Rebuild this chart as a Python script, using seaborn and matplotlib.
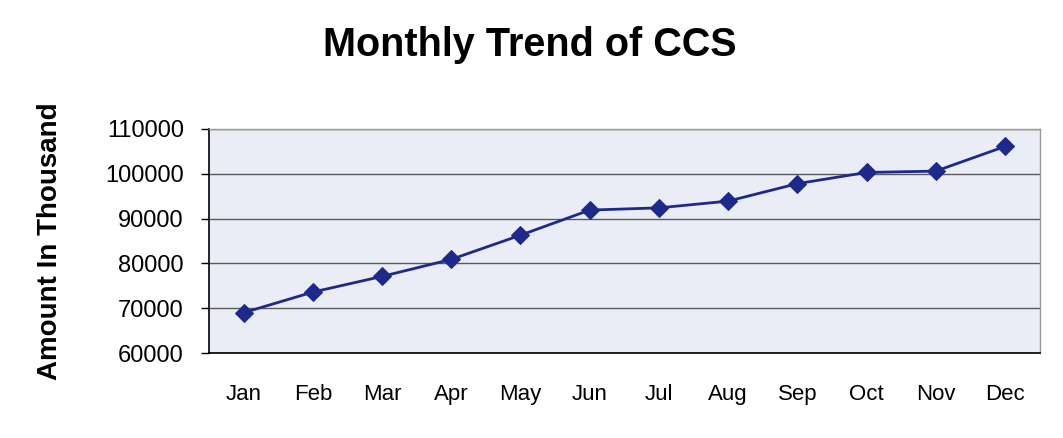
import numpy as np
import pandas as pd
import matplotlib
matplotlib.use("Agg")
import matplotlib.pyplot as plt
import seaborn as sns

# values (amount in thousand)
months = ['Jan', 'Feb', 'Mar', 'Apr', 'May', 'Jun', 'Jul', 'Aug', 'Sep', 'Oct', 'Nov', 'Dec']
amount = [69000, 73600, 77100, 80900, 86300, 91900, 92400, 93900, 97800, 100300, 100600, 106100]
yticks = [60000, 70000, 80000, 90000, 100000, 110000]

df = pd.DataFrame({'month': months, 'amount': amount})

sns.set_style('white')
plt.rcParams['font.family'] = ['Liberation Sans', 'DejaVu Sans']
plt.rcParams['text.color'] = 'black'
plt.rcParams['xtick.color'] = 'black'
plt.rcParams['ytick.color'] = 'black'
plt.rcParams['axes.labelcolor'] = 'black'

fig = plt.figure(figsize=(10.63, 4.38), dpi=100)
ax = fig.add_axes([0.1966, 0.194, 0.7814, 0.5115])
ax.set_facecolor('#eaedf5')

sns.lineplot(data=df, x='month', y='amount', sort=False, ax=ax,
             color='#1d2a8c', linewidth=2, marker='D', markersize=9,
             markeredgecolor='#1d2a8c')

ax.set_xlim(-0.5, 11.5)
ax.set_ylim(60000, 110000)
ax.set_yticks(yticks)
ax.set_yticklabels([str(v) for v in yticks], fontsize=17)
ax.set_xticks(range(len(months)))
ax.set_xticklabels(months, fontsize=16)
ax.set_xticks(np.arange(-0.5, 12, 1), minor=True)
ax.tick_params(axis='x', which='major', length=0, pad=22)
ax.tick_params(axis='x', which='minor', length=6, width=1, color='black', direction='out')
ax.tick_params(axis='y', which='major', length=6, width=1, color='black', direction='out', left=True, pad=12)

ax.grid(axis='y', color='#5a5a5a', linewidth=1)
ax.set_axisbelow(True)
for s in ['left', 'bottom']:
    ax.spines[s].set_color('black')
    ax.spines[s].set_linewidth(1.2)
for s in ['top', 'right']:
    ax.spines[s].set_color('#999999')
    ax.spines[s].set_linewidth(1)

ax.set_xlabel('')
ax.set_ylabel('Amount In Thousand', fontsize=20, fontweight='bold')
ax.yaxis.set_label_coords(-0.176, 0.5)

fig.text(0.498, 0.897, 'Monthly Trend of CCS', fontsize=28.5, fontweight='bold',
         ha='center', va='center')

fig.savefig('out.png', dpi=100)
